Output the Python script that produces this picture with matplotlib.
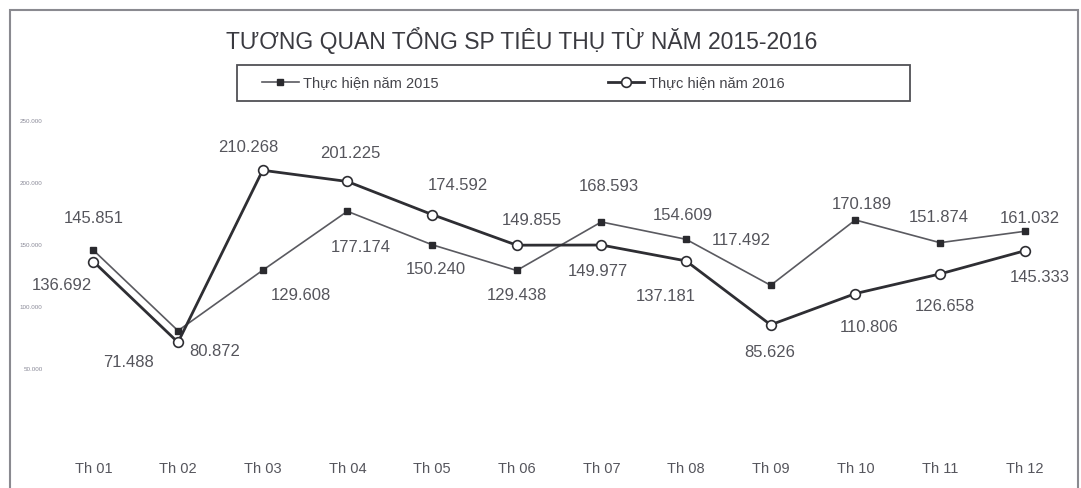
import numpy as np
import matplotlib
matplotlib.use("Agg")
import matplotlib.pyplot as plt
from matplotlib.patches import Rectangle

plt.rcParams['font.family'] = ['Liberation Sans', 'DejaVu Sans']

months = ['Th 01', 'Th 02', 'Th 03', 'Th 04', 'Th 05', 'Th 06',
          'Th 07', 'Th 08', 'Th 09', 'Th 10', 'Th 11', 'Th 12']
sl_2015 = [145.851, 80.872, 129.608, 177.174, 150.240, 129.438,
           168.593, 154.609, 117.492, 170.189, 151.874, 161.032]
sl_2016 = [136.692, 71.488, 210.268, 201.225, 174.592, 149.855,
           149.977, 137.181, 85.626, 110.806, 126.658, 145.333]
y_ticks = [50, 100, 150, 200, 250]

# label offsets in pixels (dx, dy)
off_2015 = [(0, 32), (37, -21), (38, -25), (13, -36), (4, -25), (0, -25),
            (7, 35), (-3, 24), (-29, 45), (6, 15), (-1, 25), (5, 13)]
off_2016 = [(-31, -24), (-50, -20), (-14, 23), (3, 28), (26, 29), (15, 25),
            (-3, -26), (-20, -36), (-1, -28), (14, -34), (5, -33), (15, -27)]

W, H = 1081, 488
fig = plt.figure(figsize=(W / 100, H / 100), dpi=100)
ax = fig.add_axes([51 / W, 1 - 431 / H, (1067 - 51) / W, (431 - 121) / H])

x = np.arange(len(months))
l1, = ax.plot(x, sl_2015, color='#5a5a60', lw=1.2, marker='s', ms=5,
              mfc='#2a2a2e', mec='#2a2a2e', label='Thực hiện năm 2015')
l2, = ax.plot(x, sl_2016, color='#2e2e33', lw=2.0, marker='o', ms=7,
              mfc='white', mec='#2e2e33', mew=1.2, label='Thực hiện năm 2016')

for i in range(len(x)):
    ax.annotate(f"{sl_2015[i]:.3f}", (x[i], sl_2015[i]), xytext=off_2015[i],
                textcoords='offset pixels', ha='center', va='center',
                fontsize=12, color='#55555c')
    ax.annotate(f"{sl_2016[i]:.3f}", (x[i], sl_2016[i]), xytext=off_2016[i],
                textcoords='offset pixels', ha='center', va='center',
                fontsize=12, color='#55555c')

ax.set_xlim(-0.5, len(x) - 0.5)
ax.set_ylim(0, 250)
ax.set_xticks(x)
ax.set_xticklabels(months, fontsize=10.5, color='#55555c')
ax.set_yticks(y_ticks)
ax.set_yticklabels([f"{v}.000" for v in y_ticks], fontsize=4.5, color='#8a8a98')
ax.tick_params(length=0, pad=6)
ax.tick_params(axis='x', pad=22)
for s in ax.spines.values():
    s.set_visible(False)

fig.text(522 / W, 1 - 40 / H, 'TƯƠNG QUAN TỔNG SP TIÊU THỤ TỪ NĂM 2015-2016',
         ha='center', va='center', fontsize=16.5, color='#3a3a40')

fig.patches.append(Rectangle((237 / W, 1 - 101 / H), 673 / W, 36 / H,
                             transform=fig.transFigure, fill=False,
                             edgecolor='#505055', lw=1.3))
fig.patches.append(Rectangle((10 / W, -0.05), 1068 / W, 1 - 10 / H + 0.05,
                             transform=fig.transFigure, fill=False,
                             edgecolor='#8a8a90', lw=1.5))
fig.legend(handles=[l1, l2], loc='center left', frameon=False,
           bbox_to_anchor=(249 / W, 1 - 83 / H), ncol=2, fontsize=10.5,
           handlelength=2.5, handletextpad=0.3, columnspacing=11.6,
           labelcolor='#44444a')

fig.savefig('out.png', dpi=100)
